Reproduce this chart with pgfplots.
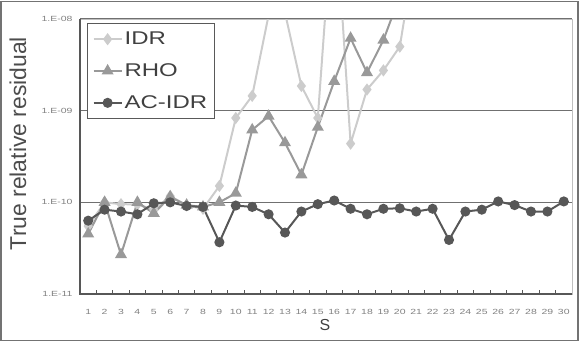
\documentclass[border=0pt]{standalone}
\usepackage{pgfplots}
\pgfplotsset{compat=1.18}
\usepackage{fontspec}
\setmainfont{Liberation Sans}
\newfontfamily\legfont[FakeStretch=1.3]{Liberation Sans}
\newfontfamily\tickfont[FakeStretch=1.4]{Liberation Sans}
\definecolor{cidr}{HTML}{CCCCCC}
\definecolor{crho}{HTML}{999999}
\definecolor{cac}{HTML}{575757}
\definecolor{cgrid}{HTML}{707070}
\begin{document}
\begin{tikzpicture}
\useasboundingbox (0,0) rectangle (581bp,343bp);
\draw[black!55, line width=1.5bp] (1bp,2.5bp) rectangle (578bp,341.5bp);
\begin{axis}[
  name=ax,
  at={(80bp,49bp)}, anchor=south west, scale only axis,
  width=492bp, height=275bp,
  xmin=0.5, xmax=30.5, ymode=log, ymin=1e-11, ymax=1e-8,
  xtick={1,...,30}, minor xtick={1.5,2.5,...,29.5},
  major tick length=0pt, minor tick length=4bp, tick align=inside,
  xtick pos=left, ytick pos=left, yminorticks=false,
  ytick={1e-11,1e-10,1e-9,1e-8},
  yticklabels={1.E-11,1.E-10,1.E-09,1.E-08},
  ymajorgrids, major grid style={cgrid, line width=1.4bp},
  axis line style={black!25, line width=1bp},
  minor tick style={cac, line width=1bp},
  /pgf/number format/assume math mode=true,
  tick label style={font=\tickfont\fontsize{7.5}{9}\selectfont, text=gray},
  xticklabel style={yshift=-12bp},
  yticklabel style={xshift=-4bp},
  xlabel={S},
  xlabel style={font=\fontsize{16}{18}\selectfont, text=black!75, at={(axis description cs:0.498,-0.113)}, anchor=center},
  ylabel={True relative residual},
  ylabel style={font=\fontsize{23}{26}\selectfont, text=black!70, at={(axis description cs:-0.126,0.547)}, anchor=center},
  legend style={at={(axis description cs:0.0142,0.9855)}, anchor=north west,
    draw=black!65, line width=1.3bp, fill=white,
    font=\legfont\fontsize{18.5}{20}\selectfont, text=black!75,
    row sep=13.5bp, inner xsep=5bp, inner ysep=6.5bp},
  legend cell align=left,
  legend image code/.code={\draw[mark repeat=2,mark phase=2,#1] plot coordinates {(0bp,0bp)(14bp,0bp)(28bp,0bp)};},
]
\addplot[cidr, line width=2bp, mark=diamond*, mark size=4.5bp, mark options={fill=cidr, draw=cidr}] coordinates {
(1,5.5e-11)(2,1.0e-10)(3,9.55e-11)(4,9.5e-11)(5,8.3e-11)(6,1.17e-10)(7,9.3e-11)(8,8.5e-11)
(9,1.51e-10)(10,8.32e-10)(11,1.45e-9)(12,1.10e-8)(13,1.17e-8)(14,1.86e-9)(15,8.32e-10)
(16,2.5e-7)(17,4.37e-10)(18,1.70e-9)(19,2.75e-9)(20,5.0e-9)(21,6.3e-8)};
\addlegendentry{IDR}
\addplot[crho, line width=2bp, mark=triangle*, mark size=5bp, mark options={fill=crho, draw=crho}] coordinates {
(1,4.52e-11)(2,1.0e-10)(3,2.69e-11)(4,1.0e-10)(5,7.59e-11)(6,1.148e-10)(7,9.33e-11)(8,8.91e-11)
(9,1.0e-10)(10,1.259e-10)(11,6.17e-10)(12,8.71e-10)(13,4.47e-10)(14,2.0e-10)(15,6.61e-10)
(16,2.09e-9)(17,6.17e-9)(18,2.60e-9)(19,5.89e-9)(20,1.78e-8)};
\addlegendentry{RHO}
\addplot[cac, line width=2bp, mark=*, mark size=4bp, mark options={fill=cac, draw=cac}] coordinates {
(1,6.31e-11)(2,8.32e-11)(3,7.94e-11)(4,7.41e-11)(5,9.77e-11)(6,1.0e-10)(7,9.12e-11)(8,8.91e-11)
(9,3.67e-11)(10,9.23e-11)(11,8.91e-11)(12,7.41e-11)(13,4.68e-11)(14,7.94e-11)(15,9.55e-11)
(16,1.047e-10)(17,8.51e-11)(18,7.41e-11)(19,8.51e-11)(20,8.61e-11)(21,7.94e-11)(22,8.51e-11)
(23,3.89e-11)(24,7.94e-11)(25,8.32e-11)(26,1.023e-10)(27,9.33e-11)(28,7.94e-11)(29,7.94e-11)(30,1.023e-10)};
\addlegendentry{AC-IDR}
\end{axis}
\draw[cac, line width=1.6bp] (ax.north west) -- (ax.south west) -- (ax.south east);
\end{tikzpicture}
\end{document}
